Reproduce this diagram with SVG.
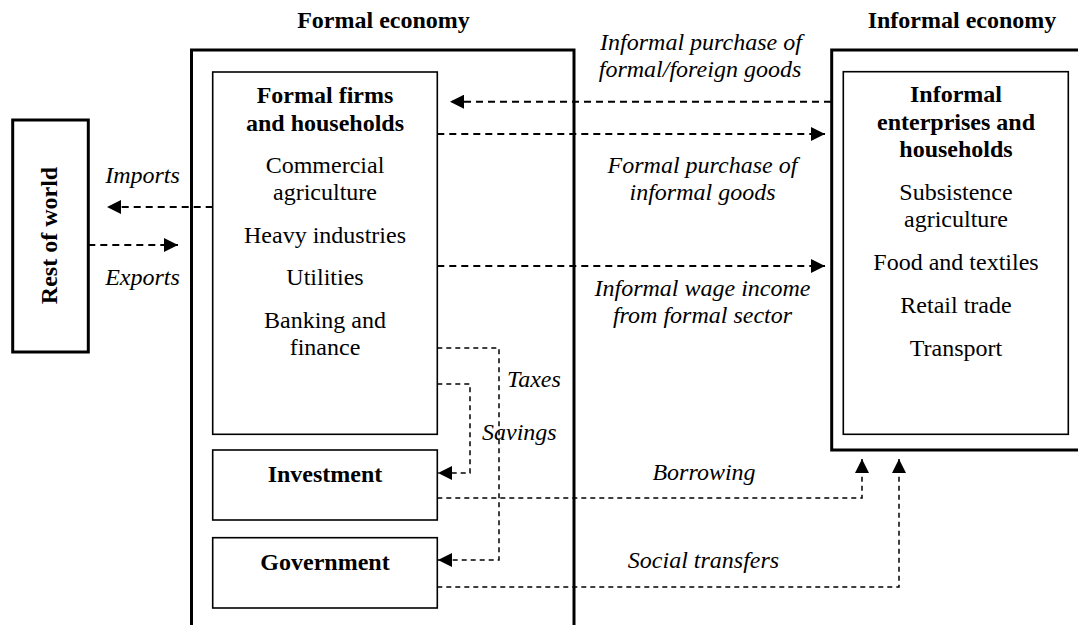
<svg xmlns="http://www.w3.org/2000/svg" width="1078" height="625" viewBox="0 0 1078 625">
<style>
text{font-family:"Liberation Serif","Times New Roman",serif;font-size:24px;fill:#000;text-anchor:middle}
.b{font-weight:bold}
.i{font-style:italic}
.outer{fill:none;stroke:#000;stroke-width:3}
.inner{fill:#fff;stroke:#000;stroke-width:1.6}
.c1{fill:none;stroke:#000;stroke-width:2;stroke-dasharray:7 5}
.c2{fill:none;stroke:#000;stroke-width:1.5;stroke-dasharray:5 4}
</style>
<defs>
<marker id="ah" markerUnits="userSpaceOnUse" markerWidth="14" markerHeight="14" viewBox="0 0 13 13" refX="13" refY="6.5" orient="auto">
<path d="M0,0 L13,6.5 L0,13 z" fill="#000"/>
</marker>
</defs>
<rect width="1078" height="625" fill="#fff"/>
<g id="titles">
<text class="b" x="383.5" y="28">Formal economy</text>
<text class="b" x="962" y="28">Informal economy</text>
</g>
<g id="formal-economy">
<rect class="outer" x="191.5" y="50" width="382.5" height="600"/>
</g>
<g id="informal-economy">
<rect class="outer" x="831.7" y="50" width="260" height="400"/>
</g>
<g id="rest-of-world">
<rect class="outer" x="12.7" y="120" width="75.6" height="232"/>
<text class="b" transform="translate(57,235.5) rotate(-90)">Rest of world</text>
</g>
<g id="formal-firms">
<rect class="inner" x="212.7" y="72" width="224.6" height="362.3"/>
<text class="b" x="325" y="103">Formal firms</text>
<text class="b" x="325" y="131">and households</text>
<text x="325" y="173">Commercial</text>
<text x="325" y="199.5">agriculture</text>
<text x="325" y="243">Heavy industries</text>
<text x="325" y="285">Utilities</text>
<text x="325" y="328">Banking and</text>
<text x="325" y="355">finance</text>
</g>
<g id="investment">
<rect class="inner" x="212.7" y="450" width="224.6" height="70"/>
<text class="b" x="325" y="482">Investment</text>
</g>
<g id="government">
<rect class="inner" x="212.7" y="537.7" width="224.6" height="70.3"/>
<text class="b" x="325" y="570">Government</text>
</g>
<g id="informal-enterprises">
<rect class="inner" x="843.3" y="71.7" width="225" height="362.6"/>
<text class="b" x="956" y="102">Informal</text>
<text class="b" x="956" y="130">enterprises and</text>
<text class="b" x="956" y="157">households</text>
<text x="956" y="200">Subsistence</text>
<text x="956" y="227">agriculture</text>
<text x="956" y="269.5">Food and textiles</text>
<text x="956" y="313">Retail trade</text>
<text x="956" y="356">Transport</text>
</g>
<g id="connectors">
<path class="c1" d="M831,101.7 H450" marker-end="url(#ah)"/>
<path class="c1" d="M437.3,134 H825" marker-end="url(#ah)"/>
<path class="c1" d="M437.3,266 H825" marker-end="url(#ah)"/>
<path class="c1" d="M212.7,207 H107" marker-end="url(#ah)"/>
<path class="c1" d="M88.3,245 H178" marker-end="url(#ah)"/>
<path class="c2" d="M437.3,348 H499 V560 H438" marker-end="url(#ah)"/>
<path class="c2" d="M437.3,384 H470 V473 H438" marker-end="url(#ah)"/>
<path class="c2" d="M437.3,498 H862 V459" marker-end="url(#ah)"/>
<path class="c2" d="M437.3,587 H899 V459" marker-end="url(#ah)"/>
</g>
<g id="labels">
<text class="i" x="701" y="50">Informal purchase of</text>
<text class="i" x="700" y="77">formal/foreign goods</text>
<text class="i" x="702.5" y="173">Formal purchase of</text>
<text class="i" x="702.5" y="199.5">informal goods</text>
<text class="i" x="702.5" y="296">Informal wage income</text>
<text class="i" x="702.5" y="323">from formal sector</text>
<text class="i" x="142.5" y="183">Imports</text>
<text class="i" x="142.5" y="285">Exports</text>
<text class="i" x="507" y="387" style="text-anchor:start">Taxes</text>
<text class="i" x="482" y="440" style="text-anchor:start">Savings</text>
<text class="i" x="704" y="480">Borrowing</text>
<text class="i" x="703.5" y="568">Social transfers</text>
</g>
</svg>
